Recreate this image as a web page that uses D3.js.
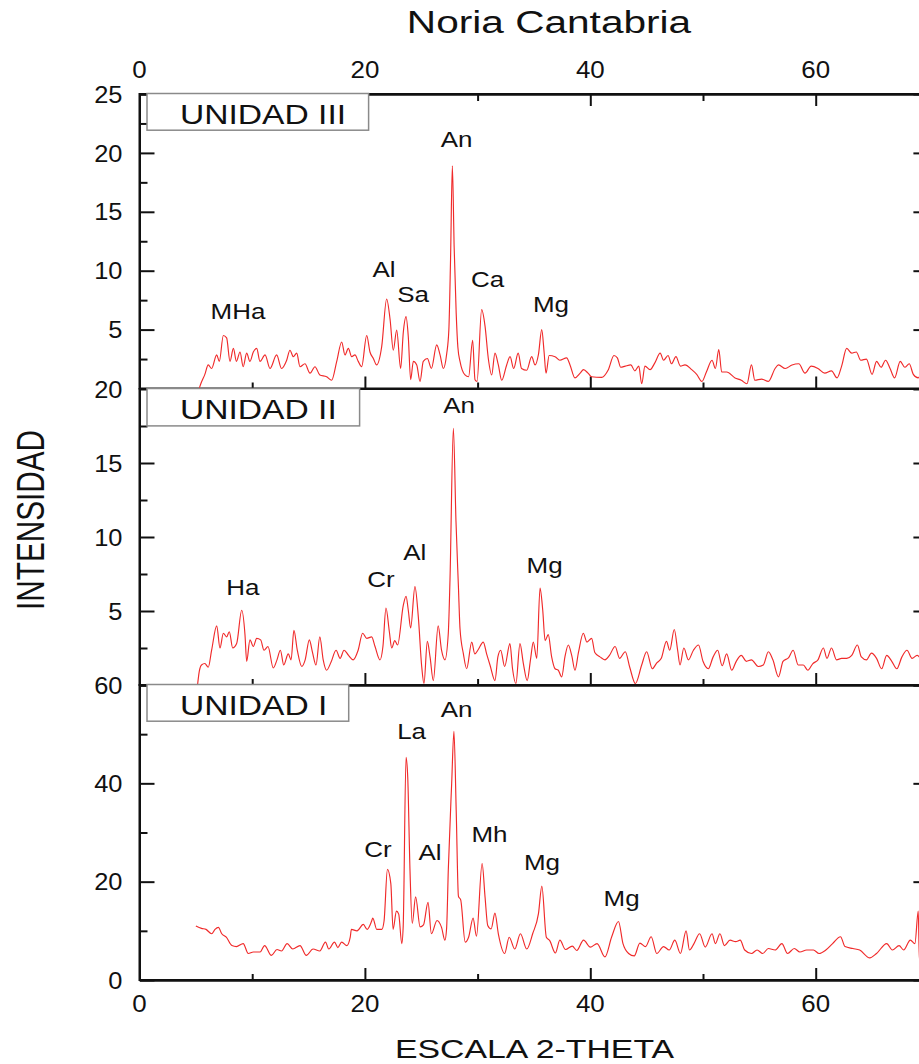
<!DOCTYPE html>
<html>
<head>
<meta charset="utf-8">
<script src="https://cdn.jsdelivr.net/npm/d3@7"></script>
<style>
  body { margin: 0; background: #fff; }
  svg { display: block; }
  text { font-family: "Liberation Sans", Arial, Helvetica, sans-serif; fill: #111; }
</style>
</head>
<body>
<svg id="chart" width="919" height="1064"></svg>
<script>
// ---- Diffractogram data: 2-theta (deg) and intensity per unit ----
const theta3 = [5.3,5.4,5.8,6.1,6.4,6.85,7.08,7.44,7.73,8.03,8.33,8.6,8.92,9.2,9.51,9.8,10.1,10.4,10.69,11.14,11.58,12.17,12.6,13.06,13.35,13.65,13.95,14.24,14.68,15.13,15.57,16.0,16.6,17.05,17.5,17.94,18.23,18.53,18.83,19.12,19.41,19.71,20.16,20.45,20.75,21.04,21.49,21.93,22.23,22.52,22.82,23.17,23.41,23.65,23.85,24.06,24.3,24.6,24.89,25.18,25.54,25.9,26.37,26.67,26.96,27.25,27.45,27.6,27.76,27.92,28.1,28.25,28.44,28.88,29.2,29.56,29.77,29.95,30.36,30.66,30.95,31.25,31.54,31.84,32.14,32.58,32.88,33.2,33.6,33.9,34.36,34.8,35.1,35.4,35.69,35.9,36.07,36.35,36.87,37.3,37.9,38.2,38.64,39.1,39.4,39.8,40.1,41.0,41.6,42.1,42.4,42.7,43.1,43.6,43.95,44.3,44.56,44.85,45.3,45.74,46.2,46.5,46.9,47.2,47.6,48.0,48.4,49.0,49.44,49.9,50.3,50.8,51.1,51.4,51.66,52.1,52.84,53.4,53.9,54.3,54.6,55.2,55.8,56.4,56.7,57.3,57.9,58.5,59.05,59.6,60.2,60.8,61.4,61.9,62.3,62.75,63.2,63.6,64.0,64.5,65.0,65.4,65.8,66.2,66.6,67.0,67.5,67.9,68.3,68.66,69.1,69.5,70];
const counts3 = [0.0,0.3,1.2,2.0,1.7,2.85,2.3,4.5,4.3,2.3,3.4,2.3,3.1,1.85,3.0,2.3,3.1,3.4,2.3,2.85,1.7,2.85,1.7,2.4,3.25,2.7,3.0,1.85,2.1,1.3,1.85,1.15,1.0,0.7,2.3,3.95,2.85,3.4,2.7,2.85,2.3,1.85,4.5,3.1,2.55,2.0,3.55,7.6,5.9,3.25,4.95,1.7,4.8,6.1,4.4,0.75,2.3,2.0,0.6,2.3,2.55,1.7,3.7,2.85,1.7,2.9,5.0,11,18.9,12,6.4,3.5,2.3,1.15,1.0,4.1,0.75,0.6,6.7,5.3,2.55,1.15,3.0,2.0,0.7,2.0,2.7,1.7,3.0,1.7,1.55,2.7,2.0,2.9,5.0,3.1,1.3,2.8,2.7,2.4,2.6,2.0,0.9,1.3,1.6,1.3,1.0,0.95,1.6,2.8,2.6,1.8,1.9,2.0,1.5,1.9,0.4,1.9,1.6,2.2,3.0,2.4,2.8,2.1,2.7,1.9,2.0,1.6,1.2,0.6,1.4,2.4,1.7,3.3,1.4,1.4,0.9,0.7,0.4,2.0,0.7,0.8,0.6,1.7,2.0,1.7,2.0,2.1,1.3,1.9,1.7,1.3,1.5,0.9,1.9,3.4,3.0,3.1,2.4,2.5,1.2,2.3,1.8,2.4,1.7,0.9,2.3,1.8,2.1,1.2,0.9,1.5,1.2];

const theta2 = [5.15,5.3,5.5,5.8,6.1,6.4,6.85,7.14,7.44,7.73,7.97,8.27,8.62,9.07,9.36,9.51,9.8,10.1,10.4,10.75,11.05,11.4,11.87,12.2,12.5,12.8,13.2,13.45,13.7,14.0,14.4,14.7,15.07,15.35,15.66,16.0,16.3,16.6,17.0,17.44,17.8,18.15,18.55,18.97,19.4,19.8,20.16,20.6,20.9,21.34,21.6,21.87,22.17,22.38,22.65,22.9,23.41,23.65,23.85,24.06,24.44,24.74,25.04,25.24,25.54,25.78,26.07,26.5,26.8,27.1,27.4,27.55,27.85,28.08,28.3,28.44,28.74,29.03,29.48,29.75,30.06,30.5,30.8,31.1,31.54,31.8,32.05,32.4,32.87,33.1,33.4,33.76,34.05,34.4,34.7,34.94,35.25,35.54,35.78,35.99,36.27,36.57,36.87,37.16,37.46,37.75,38.05,38.35,38.64,38.95,39.38,39.7,40.12,40.4,40.86,41.3,41.7,42.2,42.6,43.1,43.5,44.0,44.56,45.0,45.5,45.9,46.3,46.76,47.05,47.45,47.75,47.96,48.3,48.7,49.15,49.6,50.0,50.47,50.9,51.3,51.7,52.1,52.55,52.95,53.4,53.85,54.3,54.9,55.35,55.8,56.2,56.7,57.1,57.6,58.0,58.45,58.9,59.3,59.75,60.2,60.68,61.0,61.4,61.85,62.3,62.75,63.2,63.7,64.05,64.5,64.95,65.4,65.85,66.3,66.75,67.2,67.65,68.1,68.55,69.0,69.5,70];
const counts2 = [0.0,0.9,1.35,1.45,1.2,2.35,4.0,2.5,3.5,3.25,3.6,2.5,2.8,5.05,3.4,1.6,3.05,2.6,3.15,3.05,2.35,2.6,1.15,1.7,2.35,1.35,2.1,1.7,3.7,2.35,1.25,1.7,3.05,2.2,1.35,3.25,1.7,1.0,1.55,2.35,1.8,2.35,2.0,1.7,2.35,3.5,3.15,3.25,2.6,1.7,2.6,5.2,3.6,2.5,3.0,2.7,5.4,6.0,5.05,3.85,6.65,4.6,1.25,0.1,2.95,1.9,0.3,4.0,2.35,1.7,3.5,7.1,17.35,11.1,6.6,3.8,2.1,1.1,2.9,2.1,2.4,2.9,2.1,1.35,0.3,1.9,2.35,1.25,2.8,1.1,0.1,2.8,1.5,0.3,1.75,2.9,1.8,6.55,5.05,3.0,3.4,1.9,1.1,1.0,0.55,1.9,2.7,2.0,1.0,2.2,3.5,2.9,3.15,2.2,1.9,1.7,2.0,2.6,1.8,2.25,1.2,0.1,1.35,2.25,1.1,1.5,1.8,2.95,2.35,3.75,2.35,1.35,2.5,1.7,2.35,2.7,1.6,1.1,1.9,2.35,1.3,2.1,1.0,1.6,2.0,1.6,1.7,1.25,1.35,2.25,1.7,0.55,1.6,1.85,2.35,1.35,1.35,1.0,1.45,1.7,2.5,1.8,2.5,1.7,1.8,1.8,2.0,2.7,1.9,1.7,2.15,1.8,1.1,2.0,1.6,1.1,1.9,2.35,1.8,2.0,1.7,1.9];

const theta1 = [5.0,5.5,5.9,6.4,6.7,7.0,7.3,7.7,8.2,8.6,9.2,9.65,10.1,10.7,11.1,11.7,12.2,12.6,13.1,13.6,14.24,14.8,15.4,16.0,16.5,16.8,17.3,17.6,17.94,18.4,18.7,18.8,19.3,19.86,20.2,20.6,20.7,21.05,21.5,21.7,22.0,22.3,22.5,22.8,23.0,23.27,23.4,23.65,23.8,24.0,24.2,24.5,24.9,25.2,25.6,25.9,26.4,26.8,27.1,27.25,27.4,27.7,27.9,28.1,28.3,28.5,28.9,29.2,29.6,29.9,30.4,30.66,30.9,31.2,31.54,31.84,32.4,32.8,33.3,33.8,34.36,34.9,35.4,35.7,36.1,36.4,36.9,37.3,37.8,38.4,38.8,39.4,40.0,40.6,41.3,41.9,42.5,42.9,43.4,43.9,44.4,44.9,45.4,45.9,46.5,47.0,47.5,48.0,48.5,48.8,49.2,49.7,50.2,50.8,51.1,51.5,51.9,52.4,52.9,53.3,53.7,54.3,54.8,55.3,55.8,56.4,57.0,57.5,58.1,58.6,59.2,59.8,60.3,60.9,61.5,62.2,62.6,63.3,63.9,64.8,65.4,66.3,66.8,67.4,67.8,68.4,68.8,69.1,69.2,69.5];
const counts1 = [11.0,10.5,10.3,9.4,10.3,10.7,9.4,8.7,7.0,6.8,7.4,5.4,5.7,5.7,7.0,5.0,6.2,5.9,7.4,6.3,7.0,5.0,6.3,5.9,7.7,6.3,7.7,6.6,7.7,7.0,8.7,10.3,10.0,11.3,10.3,12.0,12.6,10.3,10.3,12.0,22.5,19.6,10.3,14.0,13.4,7.4,11,45.3,41.3,22.4,11.5,16.9,10.8,11.2,15.8,9.4,12.1,10.7,8.1,10.5,22.4,40,50.6,34.6,17.0,16.3,7.7,8.7,12.6,8.9,23.7,16.9,11.1,10.4,13.6,9.4,5.4,8.7,6.3,9.4,6.3,9.5,13.5,19.1,8.7,8.0,5.5,8.1,6.2,6.9,6.0,8.1,6.7,7.4,4.7,8.8,11.9,7.4,5.4,4.9,7.5,6.8,8.8,5.4,6.8,6.1,8.1,5.4,10.0,6.1,7.4,9.4,6.7,9.4,7.4,9.4,7.0,8.1,7.8,8.1,6.1,5.4,6.1,5.4,6.4,6.1,7.4,5.4,6.4,5.7,6.1,6.1,5.4,6.1,7.4,8.8,6.8,6.4,6.1,4.5,5.4,7.4,6.1,7.0,6.1,8.1,7.4,14,4,6];

// Phase labels: name, 2-theta of the reflection, intensity level of the label baseline
const phases3 = ["MHa","Al","Sa","An","Ca","Mg"];
const phaseTheta3 = [8.74,21.69,24.27,28.13,30.88,36.51];
const phaseLevel3 = [5.89,9.45,7.33,20.49,8.6,6.5];
const phases2 = ["Ha","Cr","Al","An","Mg"];
const phaseTheta2 = [9.16,21.43,24.42,28.35,35.94];
const phaseLevel2 = [6.08,6.62,8.45,18.38,7.57];
const phases1 = ["La","An","Cr","Al","Mh","Mg","Mg"];
const phaseTheta1 = [24.14,28.13,21.16,25.78,31.05,35.71,42.78];
const phaseLevel1 = [48.98,53.5,24.99,24.39,28.05,22.36,15.12];

// Axis ticks
const xMajor = [0,20,40,60];
const xMinor = [10,30,50,70];
const yLabels3 = [5,10,15,20,25];
const yMajor3 = [0,5,10,15,20,25];
const yMinor3 = [2.5,7.5,12.5,17.5,22.5];
const yLabels2 = [5,10,15,20];
const yMajor2 = [0,5,10,15,20];
const yMinor2 = [2.5,7.5,12.5,17.5];
const yLabels1 = [0,20,40,60];
const yMajor1 = [0,20,40,60];
const yMinor1 = [10,30,50];

// ---- Layout ----
const svg = d3.select("#chart");
const x = d3.scaleLinear().domain([0, 70]).range([139.5, 928.4]);
const X0 = x.range()[0], X1 = x.range()[1];
const ink = "#111";
const curveColor = "#f02a2a";

const panels = [
  { title: "UNIDAD III", theta: theta3, counts: counts3, domain: [0, 25], range: [388.5, 94],
    labels: yLabels3, major: yMajor3, minor: yMinor3, names: phases3, nameTheta: phaseTheta3, nameLevel: phaseLevel3,
    box: { w: 221.6, h: 36.7 }, top: true },
  { title: "UNIDAD II", theta: theta2, counts: counts2, domain: [0, 20], range: [685, 389],
    labels: yLabels2, major: yMajor2, minor: yMinor2, names: phases2, nameTheta: phaseTheta2, nameLevel: phaseLevel2,
    box: { w: 212.6, h: 37.4 } },
  { title: "UNIDAD I", theta: theta1, counts: counts1, domain: [0, 60], range: [980, 685],
    labels: yLabels1, major: yMajor1, minor: yMinor1, names: phases1, nameTheta: phaseTheta1, nameLevel: phaseLevel1,
    box: { w: 201.7, h: 36.7 }, bottom: true }
];

// text with a horizontal stretch factor
function stretchedText(parent, str, px, py, size, sx, anchor, rotate) {
  return parent.append("text")
    .attr("transform", `translate(${px},${py}) scale(${sx},1)` + (rotate ? ` rotate(${rotate})` : ""))
    .attr("font-size", size)
    .attr("text-anchor", anchor || "middle")
    .text(str);
}

function styleAxis(g) {
  g.select(".domain").attr("stroke", ink).attr("stroke-width", 2);
  g.selectAll(".tick line").attr("stroke", ink).attr("stroke-width", 2);
  g.selectAll(".tick text").remove();
}

const axesLayer = svg.append("g");
const curveLayer = svg.append("g");
const boxLayer = svg.append("g");
const textLayer = svg.append("g");

panels.forEach(p => {
  const y = d3.scaleLinear().domain(p.domain).range(p.range);
  const yTop = p.range[1], yBot = p.range[0];

  // frame
  axesLayer.append("rect")
    .attr("x", X0).attr("y", yTop).attr("width", X1 - X0).attr("height", yBot - yTop)
    .attr("fill", "none").attr("stroke", ink).attr("stroke-width", 2);

  // left axis, ticks pointing inward
  axesLayer.append("g").attr("transform", `translate(${X0},0)`)
    .call(d3.axisLeft(y).tickValues(p.major).tickSize(-15).tickSizeOuter(0)).call(styleAxis);
  axesLayer.append("g").attr("transform", `translate(${X0},0)`)
    .call(d3.axisLeft(y).tickValues(p.minor).tickSize(-8).tickSizeOuter(0)).call(styleAxis);

  // right axis
  axesLayer.append("g").attr("transform", `translate(${X1},0)`)
    .call(d3.axisRight(y).tickValues(p.major).tickSize(-15).tickSizeOuter(0)).call(styleAxis);
  axesLayer.append("g").attr("transform", `translate(${X1},0)`)
    .call(d3.axisRight(y).tickValues(p.minor).tickSize(-8).tickSizeOuter(0)).call(styleAxis);

  // bottom axis (ticks inward)
  axesLayer.append("g").attr("transform", `translate(0,${yBot})`)
    .call(d3.axisBottom(x).tickValues(xMajor).tickSize(-12).tickSizeOuter(0)).call(styleAxis);
  axesLayer.append("g").attr("transform", `translate(0,${yBot})`)
    .call(d3.axisBottom(x).tickValues(xMinor).tickSize(-6).tickSizeOuter(0)).call(styleAxis);

  if (p.top) {
    axesLayer.append("g").attr("transform", `translate(0,${yTop})`)
      .call(d3.axisTop(x).tickValues(xMajor).tickSize(-12).tickSizeOuter(0)).call(styleAxis);
    axesLayer.append("g").attr("transform", `translate(0,${yTop})`)
      .call(d3.axisTop(x).tickValues(xMinor).tickSize(-7).tickSizeOuter(0)).call(styleAxis);
    xMajor.forEach(v => stretchedText(textLayer, v, x(v), yTop - 16, 24, 1.08, "middle"));
  }
  if (p.bottom) {
    xMajor.forEach(v => stretchedText(textLayer, v, x(v), yBot + 32, 24, 1.08, "middle"));
  }

  // y tick labels
  p.labels.forEach(v => stretchedText(textLayer, v, X0 - 17, y(v) + 8.6, 24, 1.06, "end"));

  // diffraction pattern
  const pts = p.theta.map((t, i) => [t, p.counts[i]]);
  const line = d3.line().x(d => x(d[0])).y(d => y(d[1])).curve(d3.curveMonotoneX);
  curveLayer.append("path")
    .attr("d", line(pts))
    .attr("fill", "none")
    .attr("stroke", curveColor)
    .attr("stroke-width", 1.15)
    .attr("stroke-linejoin", "round");

  // unit label box
  const bx = X0 + 7.5, by = yTop - 0.5;
  boxLayer.append("rect")
    .attr("x", bx).attr("y", by).attr("width", p.box.w).attr("height", p.box.h)
    .attr("fill", "#fff").attr("stroke", "#8a8a8a").attr("stroke-width", 1.5);
  stretchedText(textLayer, p.title, bx + 33, by + 30, 28, 1.2, "start");

  // phase labels
  p.names.forEach((n, i) => {
    stretchedText(textLayer, n, x(p.nameTheta[i]), y(p.nameLevel[i]), 22, 1.18, "middle");
  });
});

// titles
stretchedText(textLayer, "Noria Cantabria", 549, 33, 31, 1.31, "middle");
stretchedText(textLayer, "ESCALA 2-THETA", 534.5, 1058, 26, 1.3, "middle");
stretchedText(textLayer, "INTENSIDAD", 44, 520, 29.7, 1.28, "middle", -90);
</script>
</body>
</html>
